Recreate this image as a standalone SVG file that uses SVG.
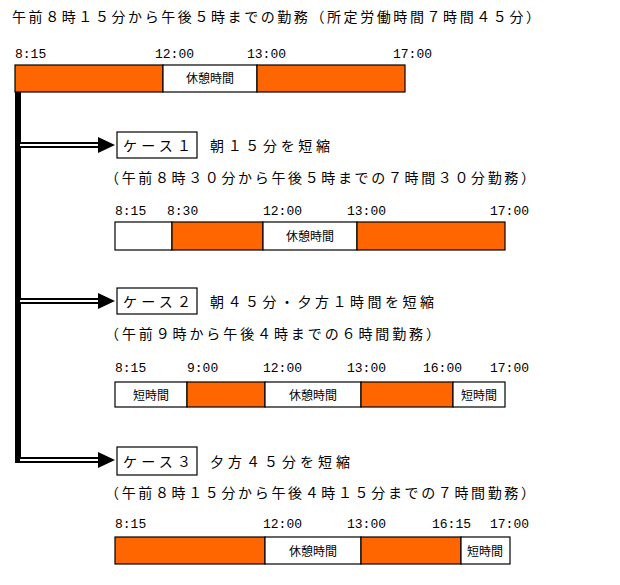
<svg xmlns="http://www.w3.org/2000/svg" width="620" height="585" viewBox="0 0 620 585">
<style>
text{font-family:"Noto Sans CJK JP","Noto Sans",sans-serif;font-size:14px;fill:#000}
.t{font-family:"Liberation Mono",monospace;font-size:13px}
.s{font-size:12px;text-anchor:middle}
.o{fill:#ff6600;stroke:#000;stroke-width:1.2}
.w{fill:#fff;stroke:#000;stroke-width:1.2}
</style>
<defs>
<g id="arr"><rect x="0" y="-3" width="80" height="6" fill="#000"/><rect x="0" y="-1" width="80" height="2" fill="#fff"/><polygon points="78,-8 95,0 78,8" fill="#000"/></g>
</defs>
<rect width="620" height="585" fill="#fff"/>
<g id="base">
<text x="12" y="22" textLength="528" lengthAdjust="spacing">午前８時１５分から午後５時までの勤務（所定労働時間７時間４５分）</text>
<text class="t" x="15" y="58">8:15</text><text class="t" x="155" y="58">12:00</text><text class="t" x="247" y="58">13:00</text><text class="t" x="393" y="58">17:00</text>
<rect class="o" x="15" y="65" width="148" height="27"/><rect class="w" x="163" y="65" width="94" height="27"/><rect class="o" x="257" y="65" width="148" height="27"/>
<text class="s" x="210" y="83">休憩時間</text>
</g>
<g id="connectors">
<rect x="15" y="92" width="6" height="371" fill="#000"/>
<use href="#arr" x="20" y="145"/><use href="#arr" x="20" y="301"/><use href="#arr" x="20" y="460"/>
</g>
<g id="case1">
<rect class="w" x="117" y="132" width="80" height="26"/><text x="123" y="151" textLength="68" lengthAdjust="spacing">ケース１</text>
<text x="210" y="151" textLength="120" lengthAdjust="spacing">朝１５分を短縮</text>
<text x="105" y="183" textLength="430" lengthAdjust="spacing">（午前８時３０分から午後５時までの７時間３０分勤務）</text>
<text class="t" x="115" y="215">8:15</text><text class="t" x="167" y="215">8:30</text><text class="t" x="263" y="215">12:00</text><text class="t" x="347" y="215">13:00</text><text class="t" x="490" y="215">17:00</text>
<rect class="w" x="115" y="222" width="57" height="28"/><rect class="o" x="172" y="222" width="91" height="28"/><rect class="w" x="263" y="222" width="94" height="28"/><rect class="o" x="357" y="222" width="148" height="28"/>
<text class="s" x="310" y="241">休憩時間</text>
</g>
<g id="case2">
<rect class="w" x="117" y="288" width="80" height="26"/><text x="123" y="307" textLength="68" lengthAdjust="spacing">ケース２</text>
<text x="210" y="307" textLength="224" lengthAdjust="spacing">朝４５分・夕方１時間を短縮</text>
<text x="105" y="339" textLength="335" lengthAdjust="spacing">（午前９時から午後４時までの６時間勤務）</text>
<text class="t" x="115" y="372">8:15</text><text class="t" x="187" y="372">9:00</text><text class="t" x="263" y="372">12:00</text><text class="t" x="347" y="372">13:00</text><text class="t" x="423" y="372">16:00</text><text class="t" x="490" y="372">17:00</text>
<rect class="w" x="115" y="382" width="72" height="25"/><rect class="o" x="187" y="382" width="78" height="25"/><rect class="w" x="265" y="382" width="96" height="25"/><rect class="o" x="361" y="382" width="92" height="25"/><rect class="w" x="453" y="382" width="52" height="25"/>
<text class="s" x="151" y="400">短時間</text><text class="s" x="313" y="400">休憩時間</text><text class="s" x="479" y="400">短時間</text>
</g>
<g id="case3">
<rect class="w" x="117" y="447" width="80" height="28"/><text x="123" y="467" textLength="68" lengthAdjust="spacing">ケース３</text>
<text x="210" y="467" textLength="140" lengthAdjust="spacing">夕方４５分を短縮</text>
<text x="105" y="498" textLength="430" lengthAdjust="spacing">（午前８時１５分から午後４時１５分までの７時間勤務）</text>
<text class="t" x="115" y="528">8:15</text><text class="t" x="263" y="528">12:00</text><text class="t" x="347" y="528">13:00</text><text class="t" x="432" y="528">16:15</text><text class="t" x="490" y="528">17:00</text>
<rect class="o" x="115" y="537" width="150" height="27"/><rect class="w" x="265" y="537" width="96" height="27"/><rect class="o" x="361" y="537" width="100" height="27"/><rect class="w" x="461" y="537" width="49" height="27"/>
<text class="s" x="313" y="556">休憩時間</text><text class="s" x="485" y="556">短時間</text>
</g>
</svg>
